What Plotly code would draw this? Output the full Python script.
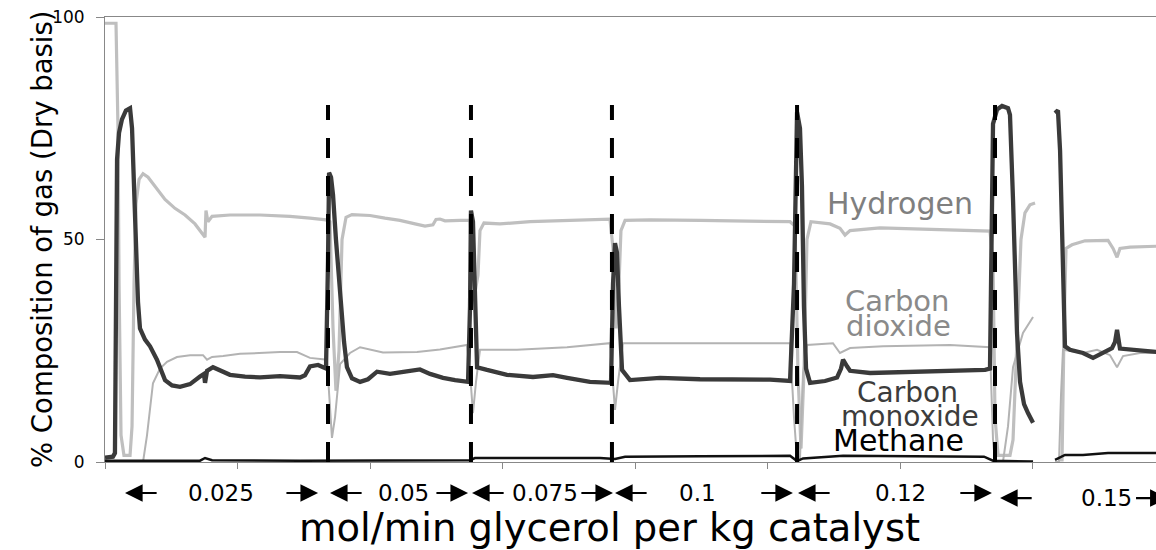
import plotly.graph_objects as go

FONT = "DejaVu Sans"

# Time on stream (axis units, one unit per tick) and dry-gas composition (%)
h2_time = [0.000, 0.083, 0.098, 0.106, 0.121, 0.143, 0.189, 0.204, 0.219, 0.234, 0.257, 0.287,
           0.325, 0.377, 0.453, 0.528, 0.604, 0.679, 0.740, 0.755, 0.762, 0.777, 0.808, 0.943,
           1.170, 1.396, 1.547, 1.668, 1.698, 1.721, 1.743, 1.766, 1.789, 1.819, 1.864, 2.000,
           2.113, 2.226, 2.340, 2.415, 2.475, 2.498, 2.528, 2.566, 2.679, 2.755, 2.777, 2.792,
           2.815, 2.830, 2.860, 2.981, 3.208, 3.434, 3.660, 3.811, 3.834, 3.857, 3.879, 3.894,
           3.925, 4.113, 4.491, 4.868, 5.170, 5.208, 5.230, 5.253, 5.275, 5.298, 5.328, 5.472,
           5.547, 5.585, 5.623, 5.849, 6.151, 6.453, 6.679, 6.702, 6.717, 6.740, 6.830, 6.853,
           6.883, 6.913, 6.943, 6.981, 7.019, None,
           7.192, 7.223, 7.238, 7.253, 7.298, 7.396, 7.570, 7.608, 7.638, 7.660, 7.736, 7.849, 7.947]
h2_pct = [98.6, 98.6, 75, 40, 6, 1.5, 1.5, 8, 40, 58, 63.5, 64.8,
          64, 62, 59, 57, 55.5, 53.5, 51.2, 50.5, 56.5, 54, 55.2, 55.5,
          55.5, 55.2, 54.8, 54.4, 54, 30, 16, 25, 50, 55, 55.6, 55.4,
          54.8, 54.3, 53.5, 53, 53.3, 54.5, 54.6, 54.2, 54.3, 54.3, 45, 38,
          42, 52, 53.7, 53.5, 54, 54.2, 54.5, 54.6, 48, 30, 40, 52,
          54.3, 54.4, 54.3, 54.2, 54.0, 53, 20, 3, 20, 50, 54, 53.5,
          52.5, 51, 52, 52.6, 52.4, 52.2, 51.9, 45, 10, 1.5, 1.5, 5,
          30, 50, 56, 57.8, 58.2, None,
          0.5, 0.5, 30, 48, 48.8, 49.7, 49.8, 48, 46, 48, 48.3, 48.5, 48.5]

co_time = [0.000, 0.060, 0.075, 0.083, 0.091, 0.106, 0.128, 0.158, 0.189, 0.204, 0.219, 0.234,
           0.249, 0.264, 0.302, 0.340, 0.392, 0.453, 0.506, 0.566, 0.642, 0.717, 0.747, 0.755,
           0.770, 0.815, 0.868, 0.943, 1.057, 1.170, 1.321, 1.472, 1.509, 1.547, 1.608, 1.668,
           1.683, 1.691, 1.706, 1.721, 1.743, 1.774, 1.804, 1.826, 1.864, 1.925, 1.985, 2.053,
           2.151, 2.264, 2.377, 2.453, 2.551, 2.642, 2.740, 2.755, 2.762, 2.777, 2.792, 2.808,
           2.883, 3.034, 3.230, 3.381, 3.487, 3.660, 3.819, 3.834, 3.849, 3.864, 3.879, 3.902,
           3.962, 4.189, 4.491, 4.792, 5.019, 5.170, 5.200, 5.223, 5.245, 5.260, 5.275, 5.291,
           5.321, 5.434, 5.525, 5.555, 5.570, 5.600, 5.623, 5.774, 6.000, 6.226, 6.453, 6.642,
           6.679, 6.702, 6.732, 6.770, 6.815, 6.830, 6.853, 6.883, 6.906, 6.936, 6.966, 7.004, None,
           7.170, 7.192, 7.208, 7.223, 7.245, 7.283, 7.381, 7.457, 7.547, 7.600, 7.623, 7.638,
           7.660, 7.758, 7.849, 7.947]
co_pct = [1.0, 1.2, 2, 45, 68, 74, 77, 79, 79.5, 75, 60, 45,
          36, 30, 27.5, 26, 23, 18.4, 17.2, 16.9, 17.5, 19.2, 19.8, 17.8,
          20.5, 21.3, 20.5, 19.6, 19.2, 19.0, 19.3, 19.0, 19.5, 21.5, 21.8, 21.0,
          45, 65, 64, 60, 50, 38, 27, 21.3, 18.8, 18.0, 18.6, 20.3,
          19.8, 20.3, 20.8, 19.8, 18.9, 18.4, 18.0, 35, 56.5, 54, 35, 21.3,
          20.7, 19.6, 19.1, 19.5, 18.9, 18.0, 17.8, 40, 49.2, 47, 35, 20.7,
          18.4, 18.9, 18.6, 18.6, 18.5, 18.2, 40, 78.6, 75, 62, 35, 21,
          17.8, 18.2, 19.0, 21, 23, 21.5, 20.5, 20.0, 20.2, 20.2, 20.4, 20.7,
          21, 76, 79.2, 80, 79.5, 78, 58.9, 29, 18, 13, 11, 8.8, None,
          78.4, 79, 70, 51.5, 26, 25.2, 24.5, 23.4, 24.8, 25.6, 27, 29.7,
          25.5, 25.2, 24.9, 24.7]

co2_time = [0.000, 0.287, 0.317, 0.362, 0.415, 0.468, 0.543, 0.642, 0.740, 0.770, 0.808, 0.891,
            1.019, 1.147, 1.321, 1.449, 1.547, 1.675, 1.698, 1.713, 1.736, 1.774, 1.849, 1.925,
            2.098, 2.355, 2.528, 2.732, 2.755, 2.777, 2.800, 2.830, 3.109, 3.487, 3.811, 3.834,
            3.849, 3.872, 3.909, 4.491, 5.170, 5.200, 5.223, 5.245, 5.268, 5.298, 5.494, 5.547,
            5.623, 5.872, 6.377, 6.679, 6.702, 6.717, 6.777, 6.815, 6.853, 6.928, 7.004, None,
            7.170, 7.200, 7.215, 7.230, 7.381, 7.487, 7.585, 7.638, 7.683, 7.811, 7.947]
co2_pct = [0, 0, 6, 17.7, 21, 22.5, 23.6, 24, 24, 23, 23.6, 23.8,
           24.3, 24.5, 24.7, 24.7, 23.4, 23, 12, 5.4, 10, 22, 24.5, 25.8,
           24.6, 24.7, 25.3, 26.3, 20, 11, 18, 25.2, 25.2, 25.8, 26.7, 18,
           11.7, 18, 26.7, 26.7, 26.7, 10, 0.5, 0.5, 20, 26.3, 26.7, 24.5,
           25.6, 26.0, 26.3, 25.8, 5, 0, 0, 8, 21.3, 29, 32.6, None,
           0, 0, 15, 25.2, 24.5, 25.2, 24, 21.3, 23.8, 24.5, 24.5]

ch4_time = [0.000, 0.717, 0.755, 0.808, 1.472, 2.755, 2.792, 3.736, 3.849, 3.925, 4.491, 5.170,
            5.223, 5.268, 5.570, 6.000, 6.634, 6.702, 7.004, None,
            7.170, 7.245, 7.381, 7.570, 7.947]
ch4_pct = [0.3, 0.3, 0.9, 0.4, 0.3, 0.4, 0.9, 0.9, 0.7, 1.2, 1.3, 1.4,
           0.2, 0.8, 1.4, 1.3, 1.2, 0.3, 0.1, None,
           0.5, 1.6, 1.6, 2.0, 2.0]

# Moments the glycerol feed rate was changed
switch_times = [1.683, 2.762, 3.826, 5.223, 6.717]
switch_top = 80.2

# Feed rate (mol/min glycerol per kg catalyst) for each period
rates = ["0.025", "0.05", "0.075", "0.1", "0.12", "0.15"]
rate_start = [0.151, 1.698, 2.770, 3.849, 5.230, 6.755]
rate_end = [1.608, 2.740, 3.834, 5.192, 6.694, 8.020]
rate_mid = [0.875, 2.249, 3.321, 4.475, 6.000, 7.562]

X_MAX = 7.932
ARROW_LEN = 0.25

fig = go.Figure()

series = [
    (h2_time, h2_pct, "Hydrogen", dict(color="#bfbfbf", width=3.2)),
    (co2_time, co2_pct, "Carbon dioxide", dict(color="#b3b3b3", width=2)),
    (co_time, co_pct, "Carbon monoxide", dict(color="#3a3a3a", width=4.3)),
    (ch4_time, ch4_pct, "Methane", dict(color="#111111", width=2.5)),
]
for t, v, name, line in series:
    fig.add_trace(go.Scatter(x=t, y=v, name=name, mode="lines", line=line,
                             connectgaps=False, hoverinfo="skip"))

for ts in switch_times:
    fig.add_trace(go.Scatter(x=[ts, ts], y=[0, switch_top], mode="lines",
                             line=dict(color="black", width=4, dash="20px,18px"),
                             hoverinfo="skip"))

annotations = []

# Series names written beside the curves
series_labels = [
    ("Hydrogen", 6.000, 58.2, "#7f7f7f", 30),
    ("Carbon", 5.977, 36.2, "#8a8a8a", 29),
    ("dioxide", 5.985, 30.5, "#8a8a8a", 29),
    ("Carbon", 6.053, 15.7, "#3c3c3c", 28),
    ("monoxide", 6.075, 10.3, "#3c3c3c", 28),
    ("Methane", 5.985, 4.9, "#000000", 30),
]
for txt, x, y, col, size in series_labels:
    annotations.append(dict(x=x, y=y, xref="x", yref="y", text=txt, showarrow=False,
                            font=dict(family=FONT, size=size, color=col),
                            xanchor="center", yanchor="middle"))

# Feed-rate periods below the axis, with arrows marking their extent
for i, (lab, s, e, m) in enumerate(zip(rates, rate_start, rate_end, rate_mid)):
    ylev = -0.081 if i == len(rates) - 1 else -0.0697
    annotations.append(dict(x=m, y=ylev, xref="x", yref="paper", text=lab, showarrow=False,
                            font=dict(family=FONT, size=23, color="black"),
                            xanchor="center", yanchor="middle"))
    for head, tail in ((s, s + ARROW_LEN), (e, e - ARROW_LEN)):
        annotations.append(dict(x=head, y=ylev, xref="x", yref="paper",
                                ax=tail, axref="x", ay=0, ayref="pixel",
                                text="", showarrow=True,
                                arrowhead=2, arrowsize=1.6, arrowwidth=2.2,
                                arrowcolor="black"))

# Axis titles
annotations.append(dict(x=(609 - 105) / 1051, y=-65 / 445, xref="paper", yref="paper",
                        text="mol/min glycerol per kg catalyst", showarrow=False,
                        font=dict(family=FONT, size=38.5, color="black"),
                        xanchor="center", yanchor="middle"))
annotations.append(dict(x=(42 - 105) / 1051, y=(462 - 239) / 445, xref="paper", yref="paper",
                        text="% Composition of gas (Dry basis)", showarrow=False,
                        textangle=-90,
                        font=dict(family=FONT, size=27.5, color="black"),
                        xanchor="center", yanchor="middle"))

fig.update_layout(
    width=1156, height=550,
    margin=dict(l=105, r=0, t=17, b=88),
    paper_bgcolor="white", plot_bgcolor="white",
    showlegend=False,
    annotations=annotations,
)
fig.update_xaxes(range=[0, X_MAX], tickvals=list(range(0, 8)), ticks="outside", ticklen=6,
                 tickcolor="#888888", showticklabels=False, showline=True, mirror=True,
                 linecolor="#888888", linewidth=1, showgrid=False, zeroline=False)
fig.update_yaxes(range=[0, 100], tickvals=[0, 50, 100], ticks="outside", ticklen=8,
                 tickcolor="#888888", showline=True, linecolor="#888888", linewidth=1,
                 showgrid=False, zeroline=False, ticklabelstandoff=8,
                 tickfont=dict(family=FONT, size=17, color="black"))

fig.write_html("out.html")
